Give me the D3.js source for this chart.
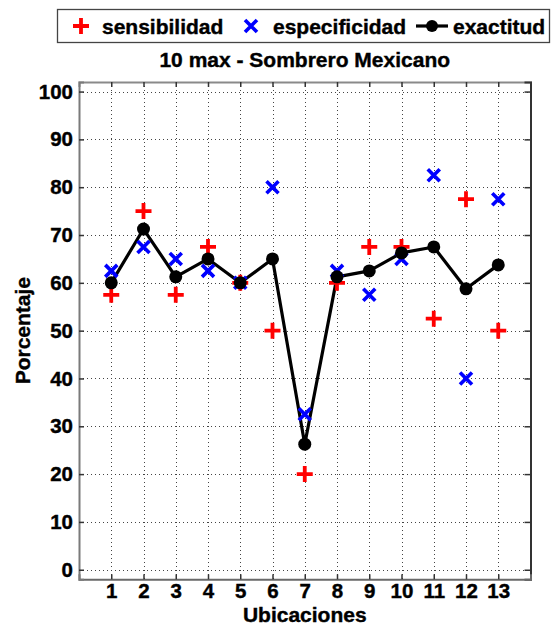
<!DOCTYPE html>
<html>
<head>
<meta charset="utf-8">
<script src="https://cdn.jsdelivr.net/npm/d3@7"></script>
<style>
  html, body { margin: 0; padding: 0; background: #fff; }
  svg { display: block; font-family: "Liberation Sans", Arial, Helvetica, sans-serif; font-weight: bold; }
</style>
</head>
<body>
<svg id="chart" width="553" height="628"></svg>
<script>
// Ubicaciones 1..13
const ubicaciones = [1, 2, 3, 4, 5, 6, 7, 8, 9, 10, 11, 12, 13];
const sensibilidad = [57.5, 75, 57.5, 67.5, 60, 50, 20, 60, 67.5, 67.5, 52.5, 77.5, 50];
const especificidad = [62.5, 67.5, 65, 62.5, 60, 80, 32.5, 62.5, 57.5, 65, 82.5, 40, 77.5];
const exactitud = [60, 71.25, 61.25, 65, 60, 65, 26.25, 61.25, 62.5, 66.25, 67.5, 58.75, 63.75];
const yTicks = [0, 10, 20, 30, 40, 50, 60, 70, 80, 90, 100];
const seriesNames = ["sensibilidad", "especificidad", "exactitud"];
const titulo = "10 max - Sombrero Mexicano";
const xTitulo = "Ubicaciones";
const yTitulo = "Porcentaje";

const svg = d3.select("#chart");
const box = { left: 79, right: 530.5, top: 82, bottom: 579.3 };

const x = d3.scaleLinear().domain([0, 14]).range([box.left, box.right]);
const y = d3.scaleLinear().domain([-2, 102]).range([box.bottom, box.top]);

// dotted grid
const grid = svg.append("g").attr("stroke", "#444").attr("stroke-width", 1)
  .attr("stroke-dasharray", "1,3");
grid.selectAll("line.v").data(ubicaciones).join("line")
  .attr("x1", d => Math.round(x(d)) + 0.5).attr("x2", d => Math.round(x(d)) + 0.5)
  .attr("y1", box.top).attr("y2", box.bottom);
grid.selectAll("line.h").data(yTicks).join("line")
  .attr("x1", box.left).attr("x2", box.right)
  .attr("y1", d => Math.round(y(d)) + 0.5).attr("y2", d => Math.round(y(d)) + 0.5);

// axes with inward ticks
const axB = d3.axisBottom(x).tickValues(ubicaciones).tickSize(-5).tickPadding(4).tickFormat(d3.format("d"));
const axL = d3.axisLeft(y).tickValues(yTicks).tickSize(-5).tickPadding(6).tickFormat(d3.format("d"));
const axT = d3.axisTop(x).tickValues(ubicaciones).tickSize(-5).tickFormat("");
const axR = d3.axisRight(y).tickValues(yTicks).tickSize(-6).tickFormat("");

function styleAxis(g, color) {
  g.select(".domain").attr("stroke", color).attr("stroke-width", 2);
  g.selectAll(".tick line").attr("stroke", "#333").attr("stroke-width", 1.5);
  g.selectAll(".tick text").attr("fill", "#000").style("font-size", "20.5px")
    .style("font-weight", "bold").style("font-family", "'Liberation Sans', Arial, sans-serif")
    .attr("stroke", "#000").attr("stroke-width", 0.4);
}
svg.append("g").attr("transform", `translate(0,${box.top})`).call(axT).call(g => styleAxis(g, "#8a8a8a"));
svg.append("g").attr("transform", `translate(${box.right},0)`).call(axR).call(g => styleAxis(g, "#333"));
svg.append("g").attr("transform", `translate(0,${box.bottom})`).call(axB).call(g => styleAxis(g, "#6a6a6a"));
svg.append("g").attr("transform", `translate(${box.left},0)`).call(axL).call(g => styleAxis(g, "#7a7a7a"));

// exactitud line
const line = d3.line().x((d, i) => x(ubicaciones[i])).y(d => y(d));
svg.append("path").datum(exactitud).attr("d", line)
  .attr("fill", "none").attr("stroke", "#000").attr("stroke-width", 3.2).attr("stroke-linejoin", "round");

// especificidad crosses
const cross = 6;
const gx = svg.append("g").attr("stroke", "#0000ff").attr("stroke-width", 3.6);
especificidad.forEach((v, i) => {
  const cx = x(ubicaciones[i]), cy = y(v);
  gx.append("path").attr("d", `M${cx - cross},${cy - cross}L${cx + cross},${cy + cross}M${cx - cross},${cy + cross}L${cx + cross},${cy - cross}`);
});

// sensibilidad plus signs
const plus = 8;
const gp = svg.append("g").attr("stroke", "#ff0000").attr("stroke-width", 3.8);
sensibilidad.forEach((v, i) => {
  const cx = x(ubicaciones[i]), cy = y(v);
  gp.append("path").attr("d", `M${cx - plus},${cy}L${cx + plus},${cy}M${cx},${cy - plus}L${cx},${cy + plus}`);
});

// exactitud dots
svg.append("g").selectAll("circle").data(exactitud).join("circle")
  .attr("cx", (d, i) => x(ubicaciones[i])).attr("cy", d => y(d)).attr("r", 6.5).attr("fill", "#000");

// titles
const heavy = sel => sel.attr("stroke", "#000").attr("stroke-width", 0.4);
svg.append("text").attr("x", (box.left + box.right) / 2).attr("y", 67).attr("text-anchor", "middle")
  .style("font-size", "21px").call(heavy).text(titulo);
svg.append("text").attr("x", (box.left + box.right) / 2).attr("y", 622).attr("text-anchor", "middle")
  .style("font-size", "21px").call(heavy).text(xTitulo);
svg.append("text").attr("transform", `translate(30,${(box.top + box.bottom) / 2}) rotate(-90)`)
  .attr("text-anchor", "middle").style("font-size", "21px").call(heavy).text(yTitulo);

// legend
const lg = svg.append("g");
lg.append("rect").attr("x", 57.5).attr("y", 9.5).attr("width", 492).attr("height", 33)
  .attr("fill", "#fff").attr("stroke", "#444").attr("stroke-width", 1.3);
const ly = 26;
lg.append("path").attr("d", `M${81 - plus},${ly}L${81 + plus},${ly}M81,${ly - plus}L81,${ly + plus}`)
  .attr("stroke", "#ff0000").attr("stroke-width", 3.8);
lg.append("path").attr("d", `M${251 - cross},${ly - cross}L${251 + cross},${ly + cross}M${251 - cross},${ly + cross}L${251 + cross},${ly - cross}`)
  .attr("stroke", "#0000ff").attr("stroke-width", 3.6);
lg.append("line").attr("x1", 416).attr("x2", 448).attr("y1", ly).attr("y2", ly)
  .attr("stroke", "#000").attr("stroke-width", 3.2);
lg.append("circle").attr("cx", 432).attr("cy", ly).attr("r", 6).attr("fill", "#000");
const textX = [102, 273, 453];
lg.selectAll("text.l").data(seriesNames).join("text")
  .attr("x", (d, i) => textX[i]).attr("y", 33.5).style("font-size", "21px").call(heavy).text(d => d);
</script>
</body>
</html>
